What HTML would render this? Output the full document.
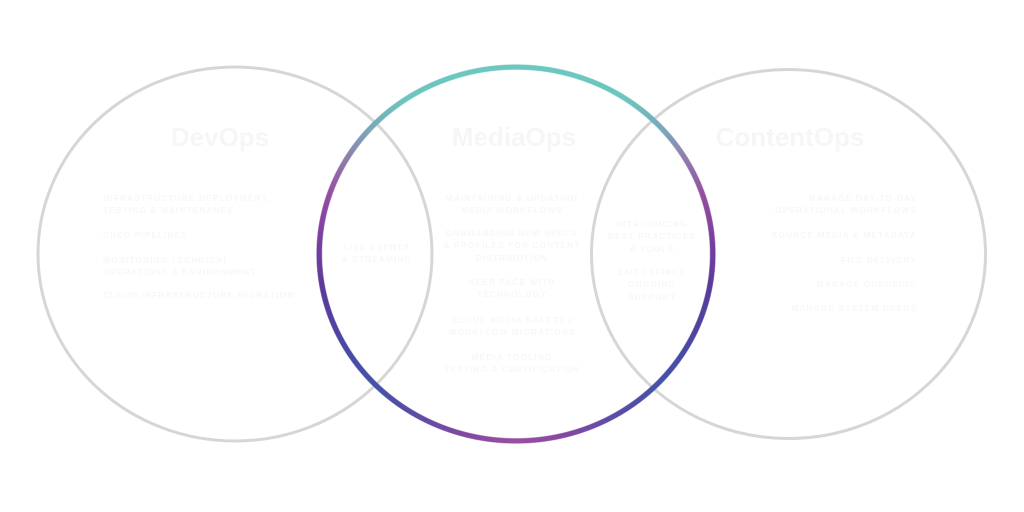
<!DOCTYPE html>
<html><head><meta charset="utf-8"><style>
html,body{margin:0;padding:0;background:#fff;}
#c{position:relative;width:1024px;height:512px;overflow:hidden;background:#fff;font-family:"Liberation Sans",sans-serif;}
svg{position:absolute;left:0;top:0;}
.ring{position:absolute;left:316px;top:64px;width:400px;height:380px;border-radius:50%;
background:conic-gradient(from 0deg,#6cc8c0 0deg,#6bc6c0 35deg,#7aa7b8 50deg,#8f7fae 60deg,#944fa0 72deg,#7a40a0 85deg,#5a3a9a 100deg,#4a48a2 118deg,#4452a8 132deg,#5a4ca6 148deg,#8548a2 165deg,#9a4ea0 180deg,#8548a2 195deg,#5a4ca6 212deg,#4452a8 228deg,#4a48a2 242deg,#5a3a9a 260deg,#7a40a0 275deg,#944fa0 288deg,#8f7fae 300deg,#7aa7b8 310deg,#6bc6c0 325deg,#6cc8c0 360deg);
-webkit-mask:radial-gradient(closest-side,transparent calc(100% - 6.5px),#000 calc(100% - 5.5px),#000 calc(100% - 1px),transparent 100%);
mask:radial-gradient(closest-side,transparent calc(100% - 6.5px),#000 calc(100% - 5.5px),#000 calc(100% - 1px),transparent 100%);}
.t{position:absolute;font-weight:bold;font-size:26px;color:#f6f6f6;white-space:nowrap;line-height:30px;}
.s{position:absolute;font-weight:bold;font-size:8.5px;letter-spacing:1px;color:#f7f7f7;white-space:nowrap;line-height:12.3px;}
.l{text-align:left;}
.cen{text-align:center;transform:translateX(-50%);}
.r{text-align:right;transform:translateX(-100%);}
</style></head><body><div id="c">
<svg width="1024" height="512" viewBox="0 0 1024 512">
<ellipse cx="235" cy="254" rx="197" ry="187" fill="none" stroke="#d6d6d6" stroke-width="3"/>
<ellipse cx="788.5" cy="254" rx="197" ry="184.5" fill="none" stroke="#d6d6d6" stroke-width="3"/>
</svg>
<div class="ring"></div>

<div class="t cen" style="left:220px;top:122px;">DevOps</div>
<div class="t cen" style="left:514px;top:122px;">MediaOps</div>
<div class="t cen" style="left:790px;top:122px;">ContentOps</div>

<div class="s l" style="left:103px;top:192px;">INFRASTRUCTURE DEPLOYMENT,<br>TESTING &amp; MAINTENANCE</div>
<div class="s l" style="left:103px;top:229px;">CI/CD PIPELINES</div>
<div class="s l" style="left:103px;top:254px;">MONITORING TECHNICAL<br>OPERATIONS &amp; ENVIRONMENT</div>
<div class="s l" style="left:103px;top:289px;">CLOUD INFRASTRUCTURE MIGRATION</div>

<div class="s cen" style="left:377px;top:241px;">LIVE EVENTS<br>&amp; STREAMING</div>

<div class="s cen" style="left:512px;top:192px;">MAINTAINING &amp; UPDATING<br>MEDIA WORKFLOWS</div>
<div class="s cen" style="left:512px;top:227px;">ONBOARDING NEW SPECS<br>&amp; PROFILES FOR CONTENT<br>DISTRIBUTION</div>
<div class="s cen" style="left:512px;top:276px;">KEEP PACE WITH<br>TECHNOLOGY</div>
<div class="s cen" style="left:512px;top:314px;">CLOUD MEDIA SAFETY /<br>WORKFLOW MIGRATIONS</div>
<div class="s cen" style="left:512px;top:351px;">MEDIA TOOLING<br>TESTING &amp; CERTIFICATION</div>

<div class="s cen" style="left:652px;top:218px;">INTRODUCING<br>BEST PRACTICES<br>&amp; TOOLS</div>
<div class="s cen" style="left:652px;top:266px;">24/7 DEFINED<br>ONGOING<br>SUPPORT</div>

<div class="s r" style="left:917px;top:192px;">MANAGE DAY-TO-DAY<br>OPERATIONAL WORKFLOWS</div>
<div class="s r" style="left:917px;top:229px;">SOURCE MEDIA &amp; METADATA</div>
<div class="s r" style="left:917px;top:254px;">FILE DELIVERY</div>
<div class="s r" style="left:917px;top:278px;">MANAGE QUEUEING</div>
<div class="s r" style="left:917px;top:302px;">MANAGE SYSTEM USERS</div>
</div></body></html>
